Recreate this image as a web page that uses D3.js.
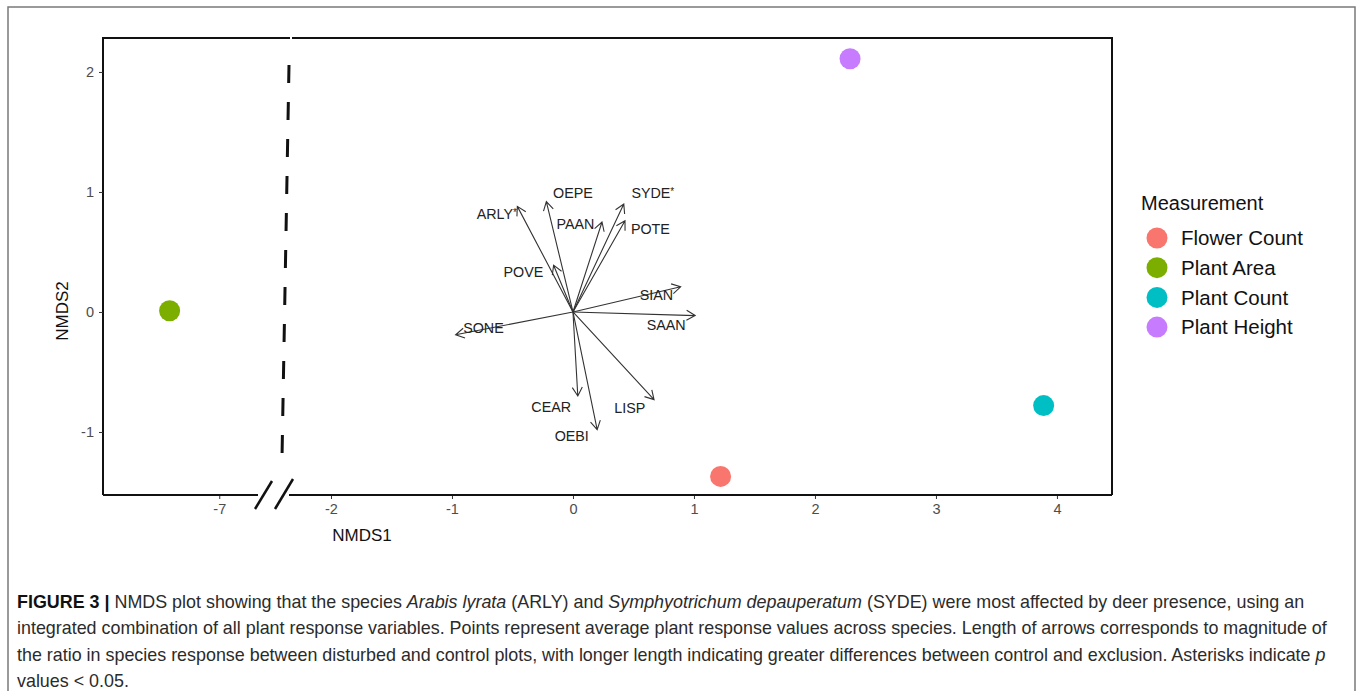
<!DOCTYPE html>
<html>
<head>
<meta charset="utf-8">
<script src="https://cdn.jsdelivr.net/npm/d3@7"></script>
<style>
  body { margin: 0; background: #fff; }
  svg { display: block; font-family: "Liberation Sans", Arial, sans-serif; }
</style>
</head>
<body>
<svg id="chart" width="1360" height="691"></svg>
<script>
// measurement group centroids
var groups = ["Flower Count", "Plant Area", "Plant Count", "Plant Height"];
var groupColors = ["#F8766D", "#7CAE00", "#00BFC4", "#C77CFF"];
var pointX = [1.22, -7.41, 3.89, 2.29];
var pointY = [-1.37, 0.01, -0.78, 2.11];

// species vectors
var species = ["ARLY*", "OEPE", "PAAN", "SYDE*", "POTE", "POVE", "SIAN", "SAAN", "SONE", "CEAR", "OEBI", "LISP"];
var arrowX = [-0.46, -0.22, 0.24, 0.42, 0.43, -0.16, 0.89, 1.01, -0.97, 0.04, 0.20, 0.67];
var arrowY = [0.88, 0.92, 0.75, 0.90, 0.76, 0.39, 0.21, -0.03, -0.19, -0.70, -0.98, -0.73];
var labelX = [-0.63, 0.00, 0.02, 0.66, 0.64, -0.41, 0.69, 0.77, -0.74, -0.18, -0.01, 0.47];
var labelY = [0.82, 0.99, 0.73, 0.99, 0.69, 0.33, 0.14, -0.11, -0.13, -0.79, -1.03, -0.80];

var xTicksLeft = [-7];
var xTicksRight = [-2, -1, 0, 1, 2, 3, 4];
var yTicks = [-1, 0, 1, 2];

var svg = d3.select("#chart");

// figure frame
svg.append("path")
    .attr("d", "M8,700 L8,7 L1355,7 L1355,700")
    .attr("fill", "none").attr("stroke", "#7a7a7a").attr("stroke-width", 1.5);

var pTop = 38, pBottom = 495, pLeft = 103, pRight = 1112;

// broken x axis: two linear pieces
var xL = d3.scaleLinear().domain([-7.96, -6.68]).range([pLeft, 258]);
var xR = d3.scaleLinear().domain([-2.347, 4.455]).range([289, pRight]);
var y = d3.scaleLinear().domain([-1.525, 2.283]).range([pBottom, pTop]);
function xPos(v) { return v < -5 ? xL(v) : xR(v); }

var g = svg.append("g");

// panel outline
g.append("path")
    .attr("d", `M${pLeft},${pBottom} L${pLeft},${pTop} L${pRight},${pTop} L${pRight},${pBottom}`)
    .attr("fill", "none").attr("stroke", "#111").attr("stroke-width", 2);

var fmt = function(d) { return String(d); };
function styleAxis(sel) {
    sel.select(".domain").remove();
    sel.selectAll(".tick line").attr("stroke", "#333").attr("stroke-width", 1);
    sel.selectAll(".tick text").attr("fill", "#4d4d4d")
        .style("font-size", "14.5px").style("font-family", "Liberation Sans, Arial, sans-serif");
}

g.append("g").attr("transform", `translate(0,${pBottom})`)
    .call(d3.axisBottom(xL).tickValues(xTicksLeft).tickFormat(fmt).tickSize(4).tickPadding(5))
    .call(styleAxis);
g.append("g").attr("transform", `translate(0,${pBottom})`)
    .call(d3.axisBottom(xR).tickValues(xTicksRight).tickFormat(fmt).tickSize(4).tickPadding(5))
    .call(styleAxis);
g.append("g").attr("transform", `translate(${pLeft},0)`)
    .call(d3.axisLeft(y).tickValues(yTicks).tickFormat(fmt).tickSize(4).tickPadding(5))
    .call(styleAxis);

// bottom axis line with break
g.append("line").attr("x1", pLeft).attr("x2", 258).attr("y1", pBottom).attr("y2", pBottom)
    .attr("stroke", "#111").attr("stroke-width", 2);
g.append("line").attr("x1", 289).attr("x2", pRight).attr("y1", pBottom).attr("y2", pBottom)
    .attr("stroke", "#111").attr("stroke-width", 2);
[[255, 509, 272, 481], [275, 509, 293, 479]].forEach(function(s) {
    g.append("line").attr("x1", s[0]).attr("y1", s[1]).attr("x2", s[2]).attr("y2", s[3])
        .attr("stroke", "#111").attr("stroke-width", 2.5);
});
// little gap in top border at the break
g.append("line").attr("x1", 290).attr("x2", 292).attr("y1", pTop).attr("y2", pTop)
    .attr("stroke", "#fff").attr("stroke-width", 3);

// dashed break line
g.append("line").attr("x1", 289).attr("y1", 65).attr("x2", 282).attr("y2", 458)
    .attr("stroke", "#111").attr("stroke-width", 3)
    .attr("stroke-dasharray", "18,19");

// axis titles
g.append("text").attr("x", 362).attr("y", 541).attr("text-anchor", "middle")
    .style("font-size", "17px").attr("fill", "#111").text("NMDS1");
g.append("text").attr("transform", "translate(68,311) rotate(-90)").attr("text-anchor", "middle")
    .style("font-size", "17px").attr("fill", "#111").text("NMDS2");

// arrows
var ox = xR(0), oy = y(0);
species.forEach(function(sp, i) {
    var tx = xR(arrowX[i]), ty = y(arrowY[i]);
    var ang = Math.atan2(ty - oy, tx - ox);
    var len = 10, spread = Math.PI / 6;
    var h1 = [tx - len * Math.cos(ang - spread), ty - len * Math.sin(ang - spread)];
    var h2 = [tx - len * Math.cos(ang + spread), ty - len * Math.sin(ang + spread)];
    g.append("path")
        .attr("d", `M${ox},${oy} L${tx},${ty} M${h1[0]},${h1[1]} L${tx},${ty} L${h2[0]},${h2[1]}`)
        .attr("fill", "none").attr("stroke", "#333").attr("stroke-width", 1.1);
});

var labels = g.selectAll("text.sp").data(species).enter().append("text")
    .attr("class", "sp")
    .attr("x", function(d, i) { return xR(labelX[i]); })
    .attr("y", function(d, i) { return y(labelY[i]); })
    .attr("dy", "0.35em")
    .attr("text-anchor", "middle")
    .attr("fill", "#222")
    .style("font-size", "14.3px");
labels.append("tspan").text(function(d) { return d.replace("*", ""); });
labels.filter(function(d) { return d.indexOf("*") >= 0; })
    .append("tspan").attr("dy", "-0.3em").style("font-size", "10px").text("*");

// points
g.selectAll("circle.pt").data(groups).enter().append("circle")
    .attr("class", "pt")
    .attr("cx", function(d, i) { return xPos(pointX[i]); })
    .attr("cy", function(d, i) { return y(pointY[i]); })
    .attr("r", 10.5)
    .attr("fill", function(d, i) { return groupColors[i]; });

// legend
var leg = svg.append("g").attr("transform", "translate(1141,0)");
leg.append("text").attr("x", 0).attr("y", 210).style("font-size", "20px").attr("fill", "#111")
    .text("Measurement");
groups.forEach(function(gr, i) {
    var cy = 238 + i * 29.7;
    leg.append("circle").attr("cx", 16).attr("cy", cy).attr("r", 10.5).attr("fill", groupColors[i]);
    leg.append("text").attr("x", 40).attr("y", cy).attr("dy", "0.35em")
        .style("font-size", "20.5px").attr("fill", "#111").text(gr);
});

// caption
var lines = [
    [["FIGURE 3 | ", "b"], ["NMDS plot showing that the species ", ""], ["Arabis lyrata", "i"], [" (ARLY) and ", ""],
     ["Symphyotrichum depauperatum", "i"], [" (SYDE) were most affected by deer presence, using an", ""]],
    [["integrated combination of all plant response variables. Points represent average plant response values across species. Length of arrows corresponds to magnitude of", ""]],
    [["the ratio in species response between disturbed and control plots, with longer length indicating greater differences between control and exclusion. Asterisks indicate ", ""], ["p", "i"]],
    [["values < 0.05.", ""]]
];
lines.forEach(function(parts, li) {
    var t = svg.append("text").attr("x", 17).attr("y", 608 + li * 26.3)
        .attr("fill", "#2b2b2b").style("font-size", "17.9px");
    parts.forEach(function(p) {
        var ts = t.append("tspan").text(p[0]);
        if (p[1] === "b") ts.style("font-weight", "bold").attr("fill", "#111");
        if (p[1] === "i") ts.style("font-style", "italic");
    });
});
</script>
</body>
</html>
